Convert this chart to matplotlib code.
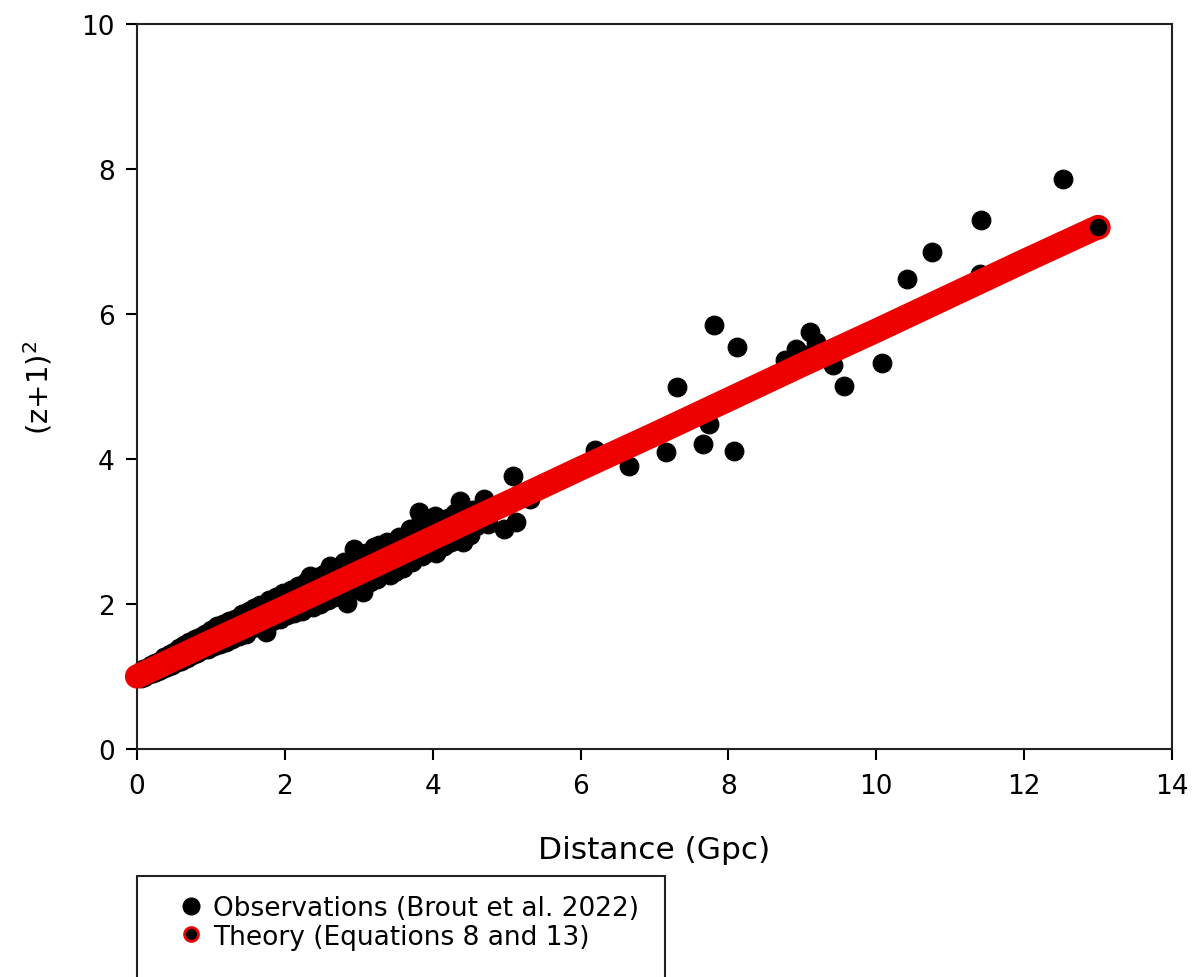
import numpy as np
import matplotlib
matplotlib.use("Agg")
from matplotlib import pyplot as plt
from matplotlib.lines import Line2D
from matplotlib.patches import Rectangle

plt.rcParams['font.family'] = ['DejaVu Sans']

# Observations (Brout et al. 2022)
obs_d = [0.01, 0.03, 0.05, 0.08, 0.10, 0.13, 0.16, 0.19, 0.22, 0.25, 0.28, 0.31,
         0.34, 0.37, 0.40, 0.44, 0.47, 0.50, 0.54, 0.57, 0.60, 0.64, 0.67, 0.70,
         0.74, 0.78, 0.81, 0.85, 0.88, 0.92, 0.96, 1.00, 1.04, 1.08, 1.12, 1.16,
         1.20, 1.25, 1.29, 1.33, 1.38, 1.42, 1.47, 1.52, 1.53, 1.58, 1.62, 1.67,
         1.72, 1.75, 1.78, 1.83, 1.88, 1.93, 1.98, 2.03, 2.08, 2.13, 2.18, 2.23,
         2.28, 2.34, 2.38, 2.43, 2.48, 2.53, 2.58, 2.61, 2.66, 2.70, 2.75, 2.80,
         2.84, 2.88, 2.93, 2.98, 3.03, 3.06, 3.10, 3.15, 3.20, 3.24, 3.28, 3.33,
         3.38, 3.42, 3.47, 3.51, 3.55, 3.60, 3.65, 3.69, 3.72, 3.76, 3.81, 3.85,
         3.90, 3.95, 4.03, 4.05, 4.10, 4.15, 4.20, 4.25, 4.30, 4.37, 4.41, 4.45,
         4.50, 4.55, 4.59, 4.69, 4.75, 4.85, 4.96, 5.09, 5.13, 5.32,
         6.20, 6.65, 7.16, 7.31, 7.66, 7.74, 7.80, 8.07, 8.12, 8.77, 8.92, 9.00,
         9.10, 9.18, 9.42, 9.57, 10.08, 10.42, 10.76, 11.40, 11.41, 12.52]
obs_y = [1.00, 1.05, 0.98, 1.10, 1.00, 1.12, 1.03, 1.16, 1.05, 1.19, 1.08, 1.22,
         1.10, 1.27, 1.13, 1.31, 1.16, 1.34, 1.20, 1.40, 1.22, 1.44, 1.25, 1.47,
         1.29, 1.52, 1.33, 1.55, 1.36, 1.59, 1.38, 1.64, 1.42, 1.69, 1.45, 1.72,
         1.48, 1.77, 1.52, 1.80, 1.56, 1.86, 1.59, 1.90, 1.66, 1.94, 1.68, 1.99,
         1.72, 1.61, 2.06, 1.76, 2.10, 1.80, 2.15, 1.85, 2.20, 1.88, 2.25, 1.91,
         2.30, 2.39, 1.96, 2.37, 2.00, 2.42, 2.05, 2.53, 2.09, 2.50, 2.12, 2.58,
         2.02, 2.18, 2.76, 2.66, 2.23, 2.16, 2.70, 2.30, 2.78, 2.34, 2.82, 2.71,
         2.85, 2.40, 2.44, 2.46, 2.92, 2.50, 2.94, 3.03, 2.58, 3.05, 3.27, 2.66,
         3.12, 2.72, 3.22, 2.71, 3.15, 2.80, 3.18, 2.85, 3.25, 3.42, 2.85, 3.25,
         2.95, 3.30, 3.08, 3.45, 3.10, 3.35, 3.03, 3.77, 3.13, 3.45,
         4.12, 3.91, 4.09, 5.00, 4.21, 4.48, 5.85, 4.11, 5.54, 5.36, 5.52, 5.45,
         5.75, 5.62, 5.29, 5.01, 5.33, 6.48, 6.85, 6.55, 7.29, 7.86]

# Theory (Equations 8 and 13)
theory_d = [0, 1, 2, 3, 4, 5, 6, 7, 8, 9, 10, 11, 12, 13]
theory_y = [1.00, 1.48, 1.95, 2.43, 2.91, 3.39, 3.87, 4.34, 4.82, 5.30, 5.77,
            6.25, 6.73, 7.20]

fig = plt.figure(figsize=(11.92, 9.78), dpi=100)
ax = fig.add_axes([137 / 1192, 1 - 750 / 978, 1035 / 1192, 725 / 978])

ax.plot(obs_d, obs_y, 'o', color='black', markersize=13.5, mec='black', mew=0.8,
        clip_on=False, zorder=2)
ax.plot(theory_d, theory_y, '-', color='#ee0000', lw=17.5, solid_capstyle='round',
        clip_on=False, zorder=3)
# last theory marker: black centre, red rim
ax.plot(theory_d[-1:], theory_y[-1:], 'o', mfc='black', mec='#ee0000',
        markersize=15, mew=2.5, clip_on=False, zorder=4)

ax.set_xlim(0, 14)
ax.set_ylim(0, 10)
ax.set_xticks(np.arange(0, 15, 2))
ax.set_yticks(np.arange(0, 11, 2))
ax.tick_params(direction='out', length=8, width=1.5, labelsize=19, colors='black')
ax.tick_params(axis='x', pad=9)
ax.tick_params(axis='y', pad=8)
for s in ax.spines.values():
    s.set_linewidth(1.5)
    s.set_color('#222222')

ax.set_xlabel('Distance (Gpc)', fontsize=22.5, labelpad=26)
ax.set_ylabel('(z+1)$^2$', fontsize=21, labelpad=19)

h_obs = Line2D([], [], ls='none', marker='o', color='black', markersize=12)
h_th = Line2D([], [], ls='none', marker='o', mfc='black', mec='#ee0000',
              markersize=10, mew=2)
fig.legend([h_obs, h_th], ['Observations (Brout et al. 2022)', 'Theory (Equations 8 and 13)'],
           loc='upper left', bbox_to_anchor=(180 / 1192, 1 - 896 / 978),
           frameon=False, fontsize=19, borderpad=0, borderaxespad=0,
           handlelength=0.8, handletextpad=0.45, labelspacing=0.1)

fig.add_artist(Rectangle((137 / 1192, -0.05), (665 - 137) / 1192, (978 - 877) / 978 + 0.05,
                         transform=fig.transFigure, fill=False, ec='#222222', lw=1.5,
                         clip_on=False))

fig.savefig('out.png', dpi=100)
